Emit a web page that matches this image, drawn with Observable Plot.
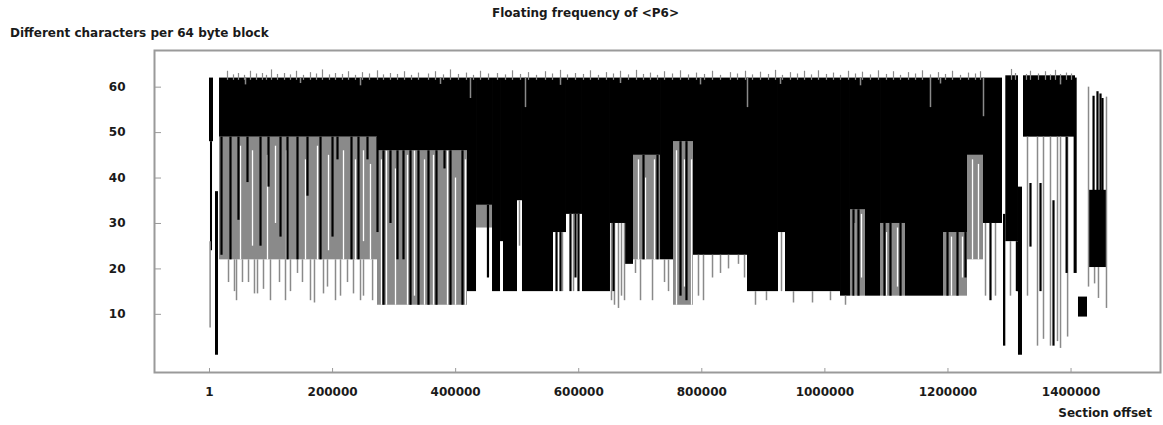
<!DOCTYPE html>
<html><head><meta charset="utf-8">
<script src="https://cdn.jsdelivr.net/npm/d3@7"></script>
<script src="https://cdn.jsdelivr.net/npm/@observablehq/plot@0.6"></script>
<style>
body{margin:0;background:#fff;}
#wrap{position:relative;width:1163px;height:425px;font-family:"DejaVu Sans",sans-serif;font-weight:bold;color:#1a1a1a;}
.lbl{position:absolute;font-size:12px;line-height:14px;white-space:nowrap;}
#chart{position:absolute;left:0;top:0;}
</style></head><body>
<div id="wrap">
  <div id="chart"></div>
  <div class="lbl" id="title" style="left:585.5px;top:6px;transform:translateX(-50%)">Floating frequency of &lt;P6&gt;</div>
  <div class="lbl" id="ylab" style="left:10px;top:26px">Different characters per 64 byte block</div>
  <div class="lbl" id="xlab" style="right:11px;top:406px">Section offset</div>
</div>
<script>
// ---- axis ticks
const xTicks = [1, 200000, 400000, 600000, 800000, 1000000, 1200000, 1400000];
const yTicks = [10, 20, 30, 40, 50, 60];

// ---- dense black bands (section offset ranges, min/max different characters)
const blackX1 = [0, 1600, 9750, 16300, 273000, 419250, 433900, 459900, 472900, 477750, 500500, 508600, 559000, 580100, 606100, 651600, 676000, 689000, 732900, 754000, 786500, 874250, 924600, 936000, 1025400, 1041600, 1066000, 1090400, 1131000, 1192750, 1231750, 1257750, 1290250, 1294000, 1314600, 1322750, 1405000, 1412100, 1428400];
const blackX2 = [6500, 4900, 14600, 273000, 419250, 433900, 459900, 472900, 477750, 500500, 508600, 559000, 580100, 606100, 651600, 676000, 689000, 732900, 754000, 786500, 874250, 924600, 936000, 1025400, 1041600, 1066000, 1090400, 1131000, 1192750, 1231750, 1257750, 1288600, 1294000, 1314600, 1321100, 1407250, 1410000, 1426750, 1459250];
const blackLo = [48, 24, 1, 49, 46, 15, 34, 15, 26, 15, 35, 15, 28, 32, 15, 30, 21, 45, 22, 48, 23, 15, 28, 15, 14, 33, 14, 30, 14, 28, 45, 30, 3, 26, 1, 49, 19, 9.4, 20.3];
const blackHi = [62, 48, 37, 62, 62, 62, 62, 62, 62, 62, 62, 62, 62, 62, 62, 62, 62, 62, 62, 62, 62, 62, 62, 62, 62, 62, 62, 62, 62, 62, 62, 62, 32, 62.5, 38, 62.5, 62, 13.8, 37.3];

// ---- sparse (grey) zones
const grayX1 = [16300, 273000, 433900, 689000, 754000, 1041600, 1090400, 1192750, 1231750];
const grayX2 = [273000, 419250, 459900, 732900, 786500, 1066000, 1131000, 1231750, 1257750];
const grayLo = [22, 12, 29, 22, 12, 14, 14, 14, 22];
const grayHi = [49, 46, 34, 45, 48, 33, 30, 28, 45];

// ---- gaps inside sparse zones
const gapX = [50400, 69900, 94250, 107250, 125100, 156000, 175500, 193400, 217750, 237250, 250250, 261600, 279500, 287600, 302250, 321750, 333100, 349400, 364000, 386750, 399750, 416000, 546000, 697100, 708500, 723100, 758900, 771900, 783350, 1048100, 1059500, 1100100, 1118000, 1205750, 1223600, 1239900, 1249600];
const gapLo = [22, 25, 22, 30, 22, 22, 22, 24, 22, 22, 26, 22, 12, 12, 12, 12, 14, 12, 12, 12, 12, 12, 15, 22, 22, 22, 12, 16, 12, 14, 18, 14, 16, 14, 18, 22, 22];
const gapHi = [47, 46, 45, 47, 46, 44, 47, 45, 46, 44, 46, 43, 44, 46, 42, 45, 46, 44, 45, 46, 40, 44, 33, 44, 40, 44, 46, 44, 44, 30, 32, 28, 29, 27, 27, 44, 43];

// ---- single low spikes (grey)
const lowX = [1000, 30900, 40600, 43900, 53600, 63400, 73100, 78000, 87750, 99100, 113750, 123500, 131600, 143000, 151100, 164100, 170600, 185250, 191750, 204750, 212900, 224250, 234000, 245400, 250250, 265000, 503750, 573600, 591500, 653250, 658100, 664600, 669500, 674400, 692250, 700400, 719900, 739400, 745900, 794600, 802750, 817400, 830400, 843400, 859600, 869400, 887250, 905100, 929500, 949000, 979900, 1009100, 1033500, 1261000, 1277250, 1301600, 1329250, 1345500, 1355250, 1366600, 1378000, 1382900, 1394400, 1428400, 1438250, 1444600, 1457600];
const lowLo = [7, 17, 15, 13, 17, 17, 14.5, 14.5, 15.5, 13, 17, 13, 15, 19, 17, 13, 12.5, 14.5, 16, 13, 14, 17, 14.5, 13, 14, 13, 25, 15, 15, 13, 12, 11.3, 14, 13, 19, 13, 13, 17, 15, 14, 13, 18, 19, 20, 21, 18, 12, 13, 15, 12.5, 12.5, 13, 12, 14, 14, 14, 14, 3, 4.5, 3, 4, 2.5, 5, 16, 16.7, 13.5, 11.3];
const lowHi = [26, 22, 22, 22, 22, 22, 22, 22, 22, 22, 22, 22, 22, 22, 22, 22, 22, 22, 22, 22, 22, 22, 22, 22, 22, 22, 35, 28, 32, 30, 30, 30, 30, 30, 22, 22, 22, 22, 22, 23, 23, 23, 23, 23, 23, 23, 15, 15, 28, 15, 15, 15, 14, 30, 30, 26, 49, 49, 49, 49, 49, 49, 49, 60, 20.3, 20.3, 57.8];

// ---- dark low spikes
const darkX = [19500, 34100, 47100, 61750, 82900, 95900, 115400, 126750, 143000, 159250, 180400, 199900, 208000, 230750, 242100, 256750, 273000, 282750, 294100, 305500, 315250, 326600, 339600, 355850, 368850, 381900, 391600, 411100, 452500, 563900, 570400, 586600, 594750, 599600, 656500, 705250, 728000, 765400, 775100, 1046500, 1054600, 1096850, 1106600, 1122900, 1199250, 1215500, 1228500, 1269100, 1312000, 1334100, 1350400, 1371500, 1392800, 1436600, 1443000, 1447900, 1451100];
const darkLo = [23, 22, 30.7, 39, 25, 38, 27, 22, 22, 36, 22, 27, 44, 22, 22, 44, 28, 12, 30, 22, 22, 12, 12, 12, 12, 42, 12, 12, 18, 15, 15, 15, 18, 15, 15, 22, 22, 14, 13, 14, 14, 14, 14, 14, 14, 14, 18, 13, 15, 24.8, 15, 3, 19, 37, 37, 37, 37];
const darkHi = [49, 49, 49, 49, 49, 49, 49, 49, 49, 49, 49, 49, 49, 49, 49, 49, 49, 46, 46, 46, 46, 46, 46, 46, 46, 46, 46, 46, 34, 28, 28, 32, 32, 32, 30, 45, 45, 48, 48, 33, 33, 30, 30, 30, 28, 28, 28, 30, 26, 38.8, 38.8, 35, 49, 58, 59, 58.5, 57.5];

// ---- peaks poking above the band
const peakX = [29250, 39000, 47100, 56900, 66600, 76400, 86100, 92600, 100750, 110500, 121900, 131600, 141400, 152750, 164100, 173900, 183600, 195000, 204750, 216100, 225900, 237250, 248600, 260000, 273000, 282750, 294100, 305500, 316900, 328250, 339600, 355900, 367250, 380250, 391600, 404600, 417600, 429000, 440400, 453400, 468000, 481000, 492400, 505400, 518400, 531400, 546000, 557400, 570400, 581750, 594750, 607750, 619100, 632100, 645100, 656500, 667900, 680900, 693900, 705250, 716600, 728000, 739400, 752400, 765400, 778400, 791400, 804400, 817400, 830400, 846600, 858000, 871000, 882400, 895400, 908400, 919800, 931100, 944100, 955500, 966900, 978250, 989600, 1002600, 1014000, 1025400, 1038400, 1049750, 1061100, 1074100, 1087100, 1100100, 1111500, 1122900, 1135900, 1147300, 1158600, 1171600, 1184600, 1196000, 1207400, 1220400, 1233400, 1244750, 1252900, 1303250, 1309750, 1327600, 1334100, 1347100, 1358500, 1366600, 1374750, 1382900, 1392600, 1400750];
const peakY = [63.5, 62.7, 63, 62.6, 63.5, 62.9, 63, 62.6, 63.8, 62.8, 63, 62.7, 63.5, 62.6, 63.2, 62.9, 63.8, 62.7, 63, 62.8, 63.4, 62.6, 63.2, 62.9, 63.6, 62.7, 63, 62.8, 63.4, 62.6, 63.1, 62.9, 63.4, 62.7, 63.8, 62.8, 63.1, 62.6, 63.5, 62.9, 63, 62.7, 63.6, 62.8, 63.2, 62.6, 63.4, 62.9, 63.7, 62.7, 63, 62.8, 63.6, 62.6, 63.2, 62.9, 63.5, 62.7, 63.7, 62.8, 63.1, 62.6, 63.4, 62.9, 63.6, 62.7, 63.1, 62.8, 63.5, 62.6, 63.2, 62.9, 63.5, 62.7, 63.3, 62.8, 63.7, 62.6, 63.2, 62.9, 63.5, 62.7, 63.6, 62.8, 63.1, 62.6, 63.5, 62.9, 63.3, 62.7, 63.6, 62.8, 63.4, 62.6, 63.2, 62.9, 63.6, 62.7, 63.2, 62.8, 63.5, 62.6, 63.1, 62.9, 63.4, 63.9, 63, 62.8, 63.5, 62.9, 63.4, 62.7, 63.7, 62.8, 63.1, 62.9];

// ---- dips from the top of the band
const dipX = [58500, 147900, 245400, 375400, 424100, 513500, 570400, 667900, 797900, 874250, 927900, 1057900, 1171600, 1187900, 1257750, 1382900];
const dipY = [60.5, 60.8, 60.3, 60.6, 57.5, 55.5, 60.4, 60.8, 60.5, 55.5, 60.6, 60.3, 55.5, 60.7, 53.5, 60.5];

// ---- tables built from the arrays
const rects = (a, b, lo, hi) => a.map((x1, i) => ({x1, x2: b[i], lo: lo[i], hi: hi[i]}));
const rows = (xs, lo, hi) => xs.map((x, i) => ({x, lo: lo[i], hi: hi[i]}));
const blackRects = rects(blackX1, blackX2, blackLo, blackHi);
const grayRects = rects(grayX1, grayX2, grayLo, grayHi);
const gaps = rows(gapX, gapLo, gapHi);
const lows = rows(lowX, lowLo, lowHi);
const darks = rows(darkX, darkLo, darkHi);
const peaks = peakX.map((x, i) => ({x, lo: 61.5, hi: peakY[i]}));
const dips = dipX.map((x, i) => ({x, lo: dipY[i], hi: 62}));

const grey = "#8a8a8a", axisGrey = "#9a9a9a";
const chart = Plot.plot({
  width: 1163, height: 425,
  marginLeft: 154, marginRight: 3, marginTop: 50, marginBottom: 53,
  x: {domain: [-89375, 1545375]},
  y: {domain: [-2.8, 68.07]},
  style: {fontFamily: "DejaVu Sans, sans-serif", fontSize: "12px", fontWeight: "bold", color: "#1a1a1a", background: "#fff"},
  marks: [
    Plot.rect(grayRects, {x1: "x1", x2: "x2", y1: "lo", y2: "hi", fill: grey}),
    Plot.ruleX(gaps, {x: "x", y1: "lo", y2: "hi", stroke: "#fff", strokeWidth: 1.3}),
    Plot.rect(blackRects, {x1: "x1", x2: "x2", y1: "lo", y2: "hi", fill: "#000"}),
    Plot.ruleX(lows, {x: "x", y1: "lo", y2: "hi", stroke: grey, strokeWidth: 1.5}),
    Plot.ruleX(darks, {x: "x", y1: "lo", y2: "hi", stroke: "#000", strokeWidth: 2.2}),
    Plot.ruleX(peaks, {x: "x", y1: "lo", y2: "hi", stroke: grey, strokeWidth: 1.2}),
    Plot.ruleX(dips, {x: "x", y1: "lo", y2: "hi", stroke: grey, strokeWidth: 1.5}),
    Plot.frame({stroke: axisGrey, strokeWidth: 2}),
    Plot.axisY({ticks: yTicks, tickSize: -7, tickPadding: 36, stroke: axisGrey, fill: "#1a1a1a", label: null}),
    Plot.axisX({ticks: xTicks, tickFormat: d => String(d), tickSize: -4, tickPadding: 19, stroke: axisGrey, fill: "#1a1a1a", label: null})
  ]
});
document.getElementById("chart").appendChild(chart);
</script>
</body></html>
